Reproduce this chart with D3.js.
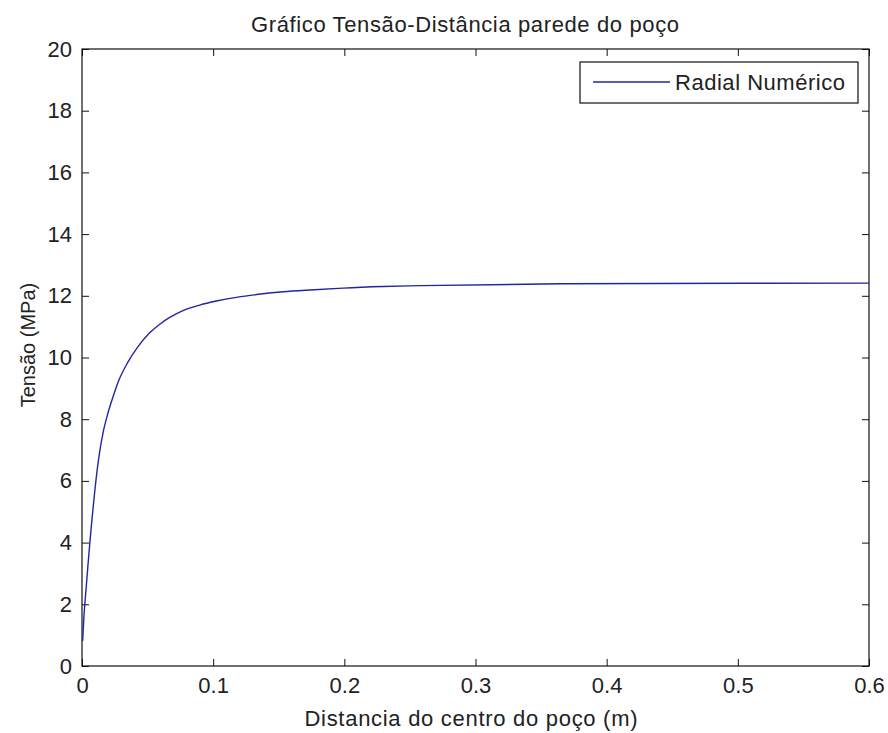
<!DOCTYPE html>
<html>
<head>
<meta charset="utf-8">
<script src="https://cdn.jsdelivr.net/npm/d3@7"></script>
<style>
  body { margin: 0; background: #fff; }
  text { font-family: "Liberation Sans", Arial, sans-serif; fill: #222; }
</style>
</head>
<body>
<div id="chart"></div>
<script>
// values
const distance = [0.0005, 0.0015, 0.0033, 0.0046, 0.0059, 0.0077, 0.0097, 0.0117, 0.0135, 0.016,
    0.0198, 0.0236, 0.0275, 0.035, 0.0427, 0.0516, 0.0593, 0.0669, 0.077, 0.0898,
    0.1025, 0.1178, 0.133, 0.1533, 0.1737, 0.199, 0.2296, 0.259, 0.3644, 0.6];
const tension = [0.81, 1.62, 2.6, 3.3, 3.95, 4.8, 5.65, 6.4, 6.95, 7.55,
    8.2, 8.72, 9.2, 9.85, 10.35, 10.8, 11.08, 11.3, 11.52, 11.7,
    11.83, 11.95, 12.04, 12.13, 12.19, 12.25, 12.3, 12.33, 12.39, 12.41];
const xTicks = [0, 0.1, 0.2, 0.3, 0.4, 0.5, 0.6];
const yTicks = [0, 2, 4, 6, 8, 10, 12, 14, 16, 18, 20];
const seriesName = "Radial Numérico";

const width = 888, height = 733;
const plotLeft = 82, plotRight = 869, plotTop = 49, plotBottom = 666;
const tickLen = 7;
const lineColor = "#2424a0";

const svg = d3.select("#chart").append("svg")
    .attr("width", width)
    .attr("height", height);

svg.append("rect").attr("width", width).attr("height", height).attr("fill", "#fff");

const x = d3.scaleLinear().domain([0, 0.6]).range([plotLeft, plotRight]);
const y = d3.scaleLinear().domain([0, 20]).range([plotBottom, plotTop]);

// axes with inward ticks on every side (matlab style)
svg.append("g")
    .attr("transform", `translate(0,${plotBottom})`)
    .call(d3.axisBottom(x).tickValues(xTicks).tickSize(-tickLen).tickPadding(tickLen + 4).tickFormat(d3.format("")))
    .call(g => g.select(".domain").remove());
svg.append("g")
    .attr("transform", `translate(0,${plotTop})`)
    .call(d3.axisTop(x).tickValues(xTicks).tickSize(-tickLen).tickFormat(""))
    .call(g => g.select(".domain").remove());
svg.append("g")
    .attr("transform", `translate(${plotLeft},0)`)
    .call(d3.axisLeft(y).tickValues(yTicks).tickSize(-tickLen).tickPadding(tickLen + 3))
    .call(g => g.select(".domain").remove());
svg.append("g")
    .attr("transform", `translate(${plotRight},0)`)
    .call(d3.axisRight(y).tickValues(yTicks).tickSize(-tickLen).tickFormat(""))
    .call(g => g.select(".domain").remove());

svg.selectAll(".tick line").attr("stroke", "#111").attr("stroke-width", 1);
svg.selectAll(".tick text")
    .style("font-size", "22px")
    .attr("fill", "#222");

svg.append("rect")
    .attr("x", plotLeft).attr("y", plotTop)
    .attr("width", plotRight - plotLeft).attr("height", plotBottom - plotTop)
    .attr("fill", "none").attr("stroke", "#111").attr("stroke-width", 1.2);

// curve
const line = d3.line()
    .x((d, i) => x(distance[i]))
    .y(d => y(d))
    .curve(d3.curveMonotoneX);

svg.append("path")
    .datum(tension)
    .attr("fill", "none")
    .attr("stroke", lineColor)
    .attr("stroke-width", 1.4)
    .attr("d", line);

// legend
const legend = svg.append("g");
legend.append("rect")
    .attr("x", 580).attr("y", 62).attr("width", 278).attr("height", 41)
    .attr("fill", "#fff").attr("stroke", "#111").attr("stroke-width", 1.2);
legend.append("line")
    .attr("x1", 593).attr("x2", 670).attr("y1", 82).attr("y2", 82)
    .attr("stroke", lineColor).attr("stroke-width", 1.4);
legend.append("text")
    .attr("x", 675).attr("y", 90)
    .style("font-size", "22px")
    .attr("textLength", 170)
    .text(seriesName);

// titles
svg.append("text")
    .attr("x", 465).attr("y", 32)
    .attr("text-anchor", "middle")
    .style("font-size", "22px")
    .attr("textLength", 428)
    .text("Gráfico Tensão-Distância parede do poço");

svg.append("text")
    .attr("x", 471).attr("y", 726)
    .attr("text-anchor", "middle")
    .style("font-size", "22px")
    .attr("textLength", 333)
    .text("Distancia do centro do poço (m)");

svg.append("text")
    .attr("transform", "translate(35,345) rotate(-90)")
    .attr("text-anchor", "middle")
    .style("font-size", "20px")
    .text("Tensão (MPa)");
</script>
</body>
</html>
